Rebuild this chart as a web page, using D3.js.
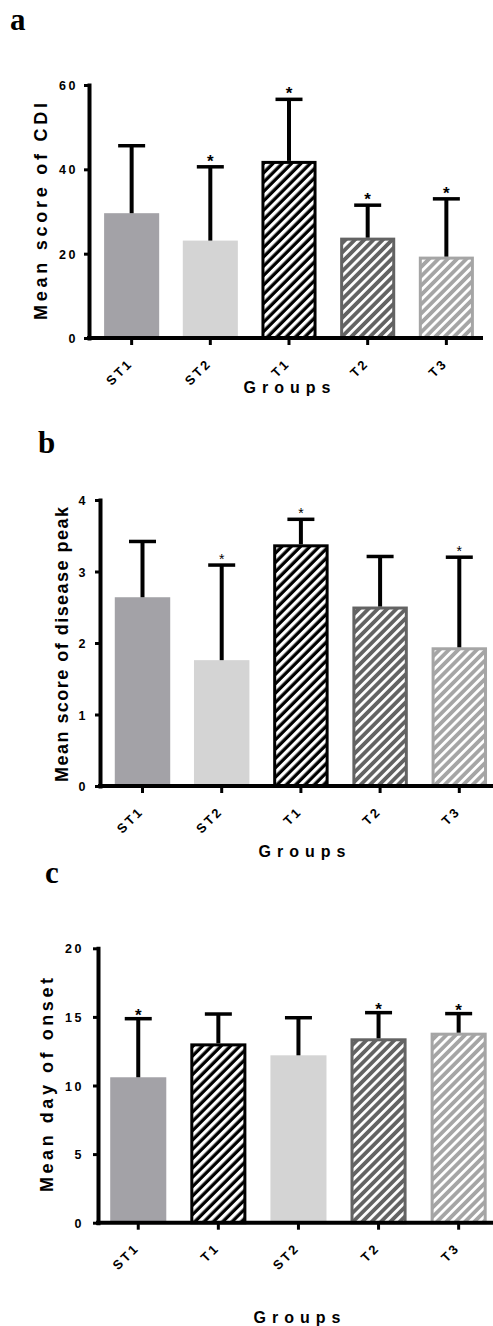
<!DOCTYPE html>
<html><head><meta charset="utf-8">
<script src="https://cdn.jsdelivr.net/npm/d3@7"></script>
<style>
html,body{margin:0;padding:0;background:#fff;}
svg{display:block;}
text{font-family:"Liberation Sans",Arial,sans-serif;font-weight:bold;fill:#000;}
</style></head><body>
<svg id="chart" width="493" height="1326"></svg>
<script>
// ---------- data ----------
const groupsA = ["ST1", "ST2", "T1", "T2", "T3"];
const cdiMean = [29.6, 23.1, 42.0, 23.8, 19.3];
const cdiSD   = [16.0, 17.5, 14.6, 7.7, 13.7];
const cdiStar = [false, true, true, true, true];
const cdiTicks = [0, 20, 40, 60];

const groupsB = ["ST1", "ST2", "T1", "T2", "T3"];
const peakMean = [2.64, 1.76, 3.38, 2.51, 1.94];
const peakSD   = [0.78, 1.33, 0.35, 0.70, 1.26];
const peakStar = [false, true, true, false, true];
const peakTicks = [0, 1, 2, 3, 4];

const groupsC = ["ST1", "T1", "ST2", "T2", "T3"];
const onsetMean = [10.6, 13.07, 12.2, 13.44, 13.85];
const onsetSD   = [4.27, 2.14, 2.74, 1.87, 1.39];
const onsetStar = [true, false, false, true, true];
const onsetTicks = [0, 5, 10, 15, 20];

const xTitle = "Groups";

// ---------- styles ----------
const groupStyle = {
  ST1: {fill: "#a3a2a7"},
  ST2: {fill: "#d4d4d4"},
  T1:  {stroke: "#000000", color: "#000000", white: 0.5},
  T2:  {stroke: "#636363", color: "#636363", white: 0.42},
  T3:  {stroke: "#a5a5a5", color: "#a5a5a5", white: 0.42}
};

const svg = d3.select("#chart");
const defs = svg.append("defs");
const period = 6.6;
Object.entries(groupStyle).forEach(([k, s]) => {
  if (!s.color) return;
  const p = defs.append("pattern")
    .attr("id", "hatch" + k)
    .attr("patternUnits", "userSpaceOnUse")
    .attr("width", period).attr("height", 20)
    .attr("patternTransform", "rotate(45)");
  p.append("rect").attr("width", period).attr("height", 20).attr("fill", s.color);
  p.append("rect").attr("x", 0).attr("width", period * s.white).attr("height", 20).attr("fill", "#fff");
});

const panels = [
  {label: "a", lx: 10, ly: 30, groups: groupsA, mean: cdiMean, sd: cdiSD, star: cdiStar, ticks: cdiTicks,
   axisX: 89, xr: [92.3, 485.7], yr: [338, 85], xEnd: 483, title: "Mean score of CDI",
   tx: 46.5, ty: 211.5, tlen: 217, tickPad: 6, gx: 287, gy: 393, starSize: 17, starOff: 0, starWeight: "bold"},
  {label: "b", lx: 38, ly: 453, groups: groupsB, mean: peakMean, sd: peakSD, star: peakStar, ticks: peakTicks,
   axisX: 100, xr: [102.9, 498.9], yr: [786, 500], xEnd: 493, title: "Mean score of disease peak",
   tx: 67.5, ty: 644.5, tlen: 275, tickPad: 7, gx: 302, gy: 857, starSize: 14, starOff: -1, starWeight: "normal"},
  {label: "c", lx: 45, ly: 883, groups: groupsC, mean: onsetMean, sd: onsetSD, star: onsetStar, ticks: onsetTicks,
   axisX: 98, xr: [98.2, 498.7], yr: [1222.7, 948.3], xEnd: 493, title: "Mean day of onset",
   tx: 52.5, ty: 1085, tlen: 214, tickPad: 9, gx: 297, gy: 1323, starSize: 17, starOff: 2, starWeight: "bold"}
];

panels.forEach(P => {
  const g = svg.append("g");
  const x = d3.scaleBand().domain(P.groups).range(P.xr).paddingInner(0.3).paddingOuter(0.15);
  const y = d3.scaleLinear().domain([0, d3.max(P.ticks)]).range(P.yr);
  const rows = P.groups.map((k, i) => ({k, m: P.mean[i], s: P.sd[i], star: P.star[i]}));

  // panel letter
  g.append("text").attr("x", P.lx).attr("y", P.ly)
    .style("font-family", '"Liberation Serif","Times New Roman",serif')
    .style("font-size", "31px").style("font-weight", "bold").text(P.label);

  // bars
  rows.forEach(d => {
    const s = groupStyle[d.k];
    const bx = x(d.k), bw = x.bandwidth(), by = y(d.m), bh = y(0) - y(d.m);
    if (s.color) {
      g.append("rect").attr("x", bx + 1.5).attr("y", by + 1.5)
        .attr("width", bw - 3).attr("height", bh - 1.5)
        .attr("fill", "url(#hatch" + d.k + ")")
        .attr("stroke", s.stroke).attr("stroke-width", 3);
    } else {
      g.append("rect").attr("x", bx).attr("y", by).attr("width", bw).attr("height", bh)
        .attr("fill", s.fill);
    }
  });

  // error bars
  rows.forEach(d => {
    const cx = x(d.k) + x.bandwidth() / 2;
    g.append("line").attr("x1", cx).attr("x2", cx).attr("y1", y(d.m)).attr("y2", y(d.m + d.s))
      .attr("stroke", "#000").attr("stroke-width", 4);
    g.append("line").attr("x1", cx - 13.5).attr("x2", cx + 13.5).attr("y1", y(d.m + d.s)).attr("y2", y(d.m + d.s))
      .attr("stroke", "#000").attr("stroke-width", 3.5);
    if (d.star) {
      g.append("text").attr("x", cx).attr("y", y(d.m + d.s) + P.starOff)
        .attr("text-anchor", "middle").style("font-size", P.starSize + "px")
        .style("font-weight", P.starWeight).text("*");
    }
  });

  // y axis
  const ya = g.append("g").attr("transform", `translate(${P.axisX},0)`)
    .call(d3.axisLeft(y).tickValues(P.ticks).tickFormat(d3.format("d"))
      .tickSize(5).tickSizeOuter(0).tickPadding(P.tickPad));
  ya.select(".domain").attr("stroke", "#000").attr("stroke-width", 4).attr("stroke-linecap", "square");
  ya.selectAll(".tick line").attr("stroke", "#000").attr("stroke-width", 3);
  ya.selectAll(".tick text").style("font-size", "12.5px").style("letter-spacing", "2.5px")
    .style("font-family", '"Liberation Sans",Arial,sans-serif').style("font-weight", "bold").attr("fill", "#000")
    .attr("dy", "0.36em");

  // x axis
  const xa = g.append("g").attr("transform", `translate(0,${P.yr[0]})`)
    .call(d3.axisBottom(x).tickSize(7).tickSizeOuter(0));
  xa.select(".domain").remove();
  xa.selectAll(".tick line").attr("stroke", "#000").attr("stroke-width", 3);
  xa.selectAll(".tick text").attr("x", 0).attr("y", 0).attr("dy", 0)
    .attr("transform", "translate(2,26) rotate(-45)")
    .style("text-anchor", "end").style("font-size", "13px").style("letter-spacing", "2.5px")
    .style("font-family", '"Liberation Sans",Arial,sans-serif').style("font-weight", "bold").attr("fill", "#000");
  g.append("line").attr("x1", P.axisX - 2).attr("x2", P.xEnd).attr("y1", P.yr[0]).attr("y2", P.yr[0])
    .attr("stroke", "#000").attr("stroke-width", 4);

  // titles
  g.append("text").attr("transform", `translate(${P.tx},${P.ty}) rotate(-90)`)
    .attr("text-anchor", "middle").style("font-size", "18px")
    .attr("textLength", P.tlen).attr("lengthAdjust", "spacing").text(P.title);
  g.append("text").attr("x", P.gx).attr("y", P.gy).attr("text-anchor", "middle")
    .style("font-size", "16px").attr("textLength", 87).attr("lengthAdjust", "spacing").text(xTitle);
});
</script>
</body></html>
